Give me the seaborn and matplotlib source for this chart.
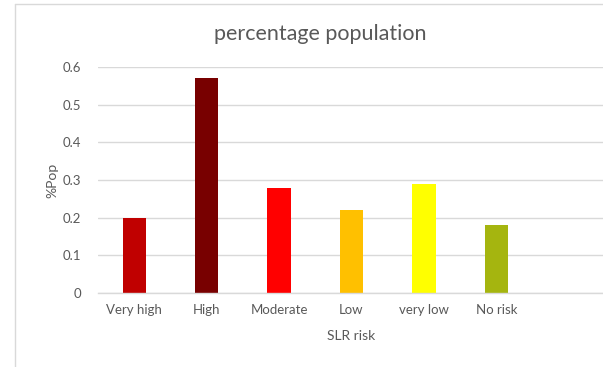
import matplotlib
matplotlib.use("Agg")
import matplotlib.pyplot as plt
from matplotlib.lines import Line2D
import seaborn as sns
import pandas as pd

categories = ["Very high", "High", "Moderate", "Low", "very low", "No risk"]
pct_pop = [0.20, 0.57, 0.28, 0.22, 0.29, 0.18]
bar_colors = ["#C00000", "#780000", "#FF0000", "#FFC000", "#FFFF00", "#A5B50F"]
y_ticks = [0, 0.1, 0.2, 0.3, 0.4, 0.5, 0.6]
y_tick_labels = ["0", "0.1", "0.2", "0.3", "0.4", "0.5", "0.6"]

df = pd.DataFrame({"SLR risk": categories, "%Pop": pct_pop})

sns.set_theme(style="white")
plt.rcParams["font.family"] = ["Lato", "DejaVu Sans"]

W, H = 603, 367
fig = plt.figure(figsize=(W / 100, H / 100), dpi=100)
left, right, bottom, top = 98, 605, 367 - 293, 367 - 67
ax = fig.add_axes([left / W, bottom / H, (right - left) / W, (top - bottom) / H])

sns.barplot(data=df, x="SLR risk", y="%Pop", hue="SLR risk",
            palette=bar_colors, legend=False, width=0.32, ax=ax,
            edgecolor="none", saturation=1)

ax.set_xlim(-0.5, 6.5)
ax.set_ylim(0, 0.6)
ax.set_yticks(y_ticks)
ax.set_yticklabels(y_tick_labels)
ax.yaxis.grid(True, color="#D9D9D9", linewidth=1)
ax.set_axisbelow(True)
for s in ["left", "right", "top"]:
    ax.spines[s].set_visible(False)
ax.spines["bottom"].set_color("#D9D9D9")
ax.spines["bottom"].set_linewidth(1)

grey = "#595959"
ax.tick_params(axis="y", length=0, pad=12, labelsize=9.5, labelcolor=grey)
ax.tick_params(axis="x", length=0, pad=8, labelsize=9.5, labelcolor=grey)
ax.set_xlabel("SLR risk", fontsize=10, color=grey, labelpad=10)
ax.set_ylabel("%Pop", fontsize=10, color=grey, labelpad=3)

fig.text(320 / W, 1 - 34 / H, "percentage population", ha="center", va="center",
         fontsize=15.5, color=grey)

# chart area frame
fig.add_artist(Line2D([15 / W, 15 / W], [0, 1 - 4 / H], transform=fig.transFigure,
                      color="#D9D9D9", linewidth=1))
fig.add_artist(Line2D([15 / W, 1], [1 - 4 / H, 1 - 4 / H], transform=fig.transFigure,
                      color="#D9D9D9", linewidth=1))

fig.savefig("out.png", dpi=100, facecolor="white")
